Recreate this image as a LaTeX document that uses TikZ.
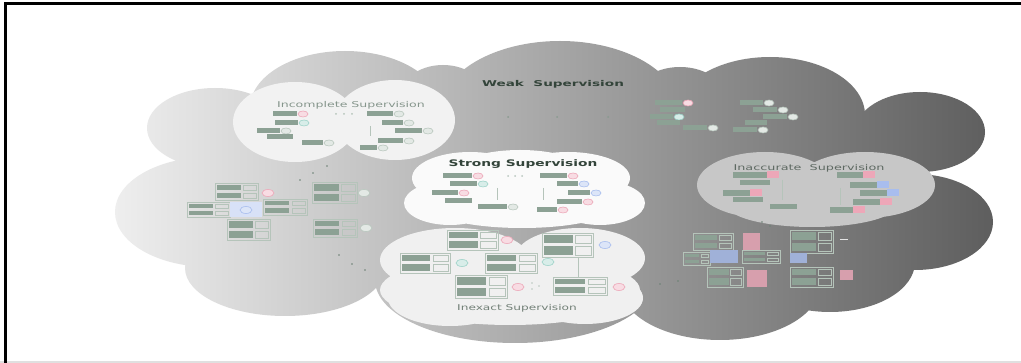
\documentclass[tikz,border=0pt]{standalone}
\usepackage{fontspec}
\setmainfont{DejaVu Sans}
\usepackage{graphicx}
\definecolor{cl}{HTML}{EEEEEE}
\definecolor{cr}{HTML}{5E5E5E}
\definecolor{barc}{HTML}{8CA194}
\definecolor{bardk}{HTML}{6A8073}
\definecolor{pinkc}{HTML}{EDA7B8}
\definecolor{tealc}{HTML}{9ED3C9}
\definecolor{bluec}{HTML}{A8BDEE}
\definecolor{lgc}{HTML}{B9C7BE}
\definecolor{linec}{HTML}{B5C4BA}
\definecolor{titled}{HTML}{33443A}
\definecolor{titlel}{HTML}{86968C}
\tikzset{
  bagl/.style={draw=linec,line width=0.6pt},
  titlefont/.style={font=\fontsize{8}{9}\selectfont, inner sep=0pt},
}
\newcommand\inst[4]{%
  \fill[barc] (#1,#2-2.5) rectangle (#1+#3,#2+2.5);
  \draw[#4,line width=0.6pt,fill=#4!40] (#1+#3+6,#2) ellipse (5 and 3);}
\newcommand\barr[3]{\fill[barc] (#1,#2-2.5) rectangle (#1+#3,#2+2.5);}
\newcommand\ibar[4]{%
  \fill[barc] (#1,#2-3) rectangle (#1+#3,#2+3);
  \fill[#4] (#1+#3,#2-3.5) rectangle (#1+#3+12,#2+3.5);}
\newcommand\bagg[4]{%
  \draw[bagl] (#1,#2) rectangle (#1+#3,#2+#4);
  \fill[barc] (#1+2,#2+2) rectangle (#1+0.6*#3,#2+0.5*#4-1.5);
  \fill[barc] (#1+2,#2+0.5*#4+1.5) rectangle (#1+0.6*#3,#2+#4-2);
  \draw[bagl] (#1+0.66*#3,#2+2) rectangle (#1+#3-2,#2+0.5*#4-1.5);
  \draw[bagl] (#1+0.66*#3,#2+0.5*#4+1.5) rectangle (#1+#3-2,#2+#4-2);}
\newcommand\lab[3]{\draw[#3,line width=0.6pt,fill=#3!40] (#1,#2) ellipse (6 and 3.5);}
\begin{document}
\begin{tikzpicture}[x=1pt,y=-1pt]
\useasboundingbox (0,0) rectangle (1021,363);
\fill[white] (0,0) rectangle (1021,363);
% frame
\fill[black!12] (0,361) rectangle (1021,363);
\draw[line width=3pt] (5,363) -- (5,4) -- (1021,4);
% big cloud
\shade[left color=cl, right color=cr]
  (210,212) ellipse (95 and 55)
  (215,128) ellipse (68 and 40)
  (345,108) ellipse (95 and 57)
  (443,100) ellipse (45 and 35)
  (560,112) ellipse (120 and 71)
  (680,105) ellipse (50 and 38)
  (770,115) ellipse (95 and 58)
  (920,132) ellipse (65 and 40)
  (915,222) ellipse (78 and 48)
  (830,262) ellipse (85 and 50)
  (720,285) ellipse (100 and 55)
  (515,280) ellipse (140 and 63)
  (285,268) ellipse (100 and 48)
  (210,285) rectangle (880,135);
% inner clouds
\fill[black!5] (295,122) ellipse (62 and 40) (395,120) ellipse (60 and 40);
\fill[black!2] (470,178) ellipse (58 and 26) (568,178) ellipse (62 and 26)
  (520,168) ellipse (60 and 18) (450,203) ellipse (46 and 22) (600,203) ellipse (45 and 22)
  (522,205) ellipse (95 and 23);
\fill[black!6] (455,260) ellipse (75 and 32) (580,258) ellipse (65 and 30)
  (510,290) ellipse (130 and 35) (450,298) ellipse (62 and 28) (585,298) ellipse (58 and 26);
\fill[black!22] (765,185) ellipse (68 and 33) (865,185) ellipse (70 and 33) (812,205) ellipse (85 and 22);
% titles
\node[titlefont, font=\fontsize{8}{9}\selectfont\bfseries, text=titled] (weak) at (553,84) {\scalebox{1.7}[1]{Weak\ \ Supervision}};
\node[titlefont, text=titlel] (incomplete) at (351,105) {\scalebox{1.57}[1]{Incomplete\ Supervision}};
\node[titlefont, font=\fontsize{9}{10}\selectfont\bfseries, text=titled] (strong) at (523,164) {\scalebox{1.53}[1]{Strong Supervision}};
\node[titlefont, text=titlel!85!black] (inexact) at (517,308) {\scalebox{1.52}[1]{Inexact Supervision}};
\node[titlefont, text=titlel!70!black] (inaccurate) at (809,168) {\scalebox{1.6}[1]{Inaccurate\ \ Supervision}};
% incomplete content
\inst{273}{114}{24}{pinkc}
\inst{275}{123}{23}{tealc}
\inst{257}{131}{23}{lgc}
\barr{267}{137}{26}
\inst{302}{143}{21}{lgc}
\foreach \x in {336,344,352} \fill[linec] (\x,114) circle (1);
\inst{367}{114}{26}{lgc}
\inst{382}{123}{21}{lgc}
\inst{395}{131}{27}{lgc}
\inst{378}{141}{25}{lgc}
\inst{360}{148}{17}{lgc}
\draw[linec] (370,126) -- (370,136);
% strong content
\inst{443}{176}{29}{pinkc}
\foreach \x in {508,515,522} \fill[lgc] (\x,176) circle (1);
\inst{540}{176}{27}{pinkc}
\inst{450}{184}{27}{tealc}
\inst{557}{184}{21}{bluec}
\inst{432}{193}{26}{pinkc}
\draw[linec] (497,188) -- (497,200);
\draw[linec] (543,188) -- (543,200);
\inst{568}{193}{22}{bluec}
\barr{445}{201}{27}
\inst{557}{202}{25}{pinkc}
\inst{478}{207}{29}{lgc}
\inst{537}{210}{20}{pinkc}
% inexact content
\bagg{447}{230}{51}{20} \lab{507}{240}{pinkc}
\bagg{542}{233}{51}{24} \lab{605}{245}{bluec}
\bagg{400}{253}{50}{20} \lab{462}{263}{tealc}
\bagg{485}{253}{52}{20} \lab{548}{262}{tealc}
\bagg{455}{275}{52}{23} \lab{518}{287}{pinkc}
\bagg{553}{277}{54}{18} \lab{619}{287}{pinkc}
\draw[linec] (578,257) -- (578,277);
\foreach \y in {283,289} \fill[lgc] (532,\y) circle (0.9);
\fill[lgc] (539,286) circle (0.9);
% left region content
\bagg{215}{183}{43}{17} \lab{268}{193}{pinkc}
\bagg{187}{202}{43}{15}
\fill[bluec!45] (230,202) rectangle (262,217);
\lab{246}{210}{bluec}
\bagg{263}{199}{44}{16}
\bagg{227}{219}{43}{21}
\bagg{312}{182}{45}{21} \lab{364}{193}{lgc}
\bagg{313}{219}{44}{18} \lab{366}{228}{lgc}
\foreach \p in {(327,166),(313,173),(300,180),(339,255),(352,264),(365,270)} \fill[bardk] \p circle (0.9);
% weak area dots
\foreach \x in {508,557,608} \fill[bardk!80] (\x,117) circle (1);
% top right content
\inst{655}{103}{27}{pinkc}
\inst{740}{103}{23}{lgc}
\barr{660}{110}{25}
\inst{753}{110}{24}{lgc}
\inst{650}{117}{23}{tealc}
\inst{763}{117}{24}{lgc}
\barr{657}{123}{23}
\inst{683}{128}{24}{lgc}
\inst{733}{130}{24}{lgc}
\barr{745}{123}{22}
% inaccurate content
\ibar{733}{175}{34}{pinkc}
\ibar{837}{175}{26}{pinkc}
\barr{740}{183}{30}
\ibar{850}{185}{27}{bluec}
\ibar{723}{193}{27}{pinkc}
\ibar{860}{193}{27}{bluec}
\barr{733}{200}{30}
\ibar{853}{202}{27}{pinkc}
\barr{770}{207}{27}
\ibar{830}{210}{23}{pinkc}
\draw[linec] (782,180) -- (782,200);
\draw[linec] (840,188) -- (840,205);
% lower right content
\bagg{693}{233}{40}{17} \fill[pinkc!80!gray] (743,233) rectangle (760,250);
\bagg{790}{230}{43}{23}
\bagg{683}{252}{27}{13} \fill[bluec!80!gray] (710,250) rectangle (738,263);
\bagg{742}{250}{38}{13} \fill[bluec!80!gray] (790,253) rectangle (807,263);
\bagg{707}{267}{36}{20} \fill[pinkc!80!gray] (747,270) rectangle (767,287);
\bagg{790}{267}{43}{20} \fill[pinkc!80!gray] (840,270) rectangle (853,280);
\draw[white!80!gray, line width=1pt] (840,240) -- (848,240);
\foreach \p in {(762,222),(770,226),(660,284),(678,281)} \fill[bardk] \p circle (0.9);
\end{tikzpicture}
\end{document}
